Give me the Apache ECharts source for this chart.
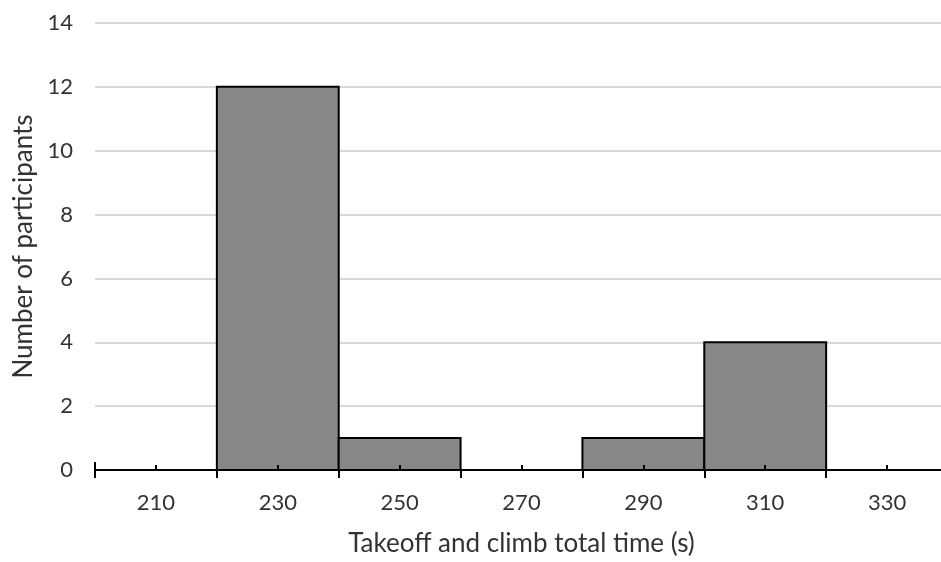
<!DOCTYPE html>
<html><head><meta charset="utf-8">
<script src="https://cdn.jsdelivr.net/npm/echarts@6/dist/echarts.min.js"></script>
<style>html,body{margin:0;padding:0;background:#fff;overflow:hidden;width:941px;height:562px}#c{width:948px;height:562px}</style>
</head><body><div id="c"></div>
<script>
const categories = ['210','230','250','270','290','310','330'];
const counts = [0,12,1,0,1,4,0];
const yTicks = [0,2,4,6,8,10,12,14];
const xTitle = 'Takeoff and climb total time (s)';
const yTitle = 'Number of participants';

const font = 'Lato, "Open Sans", sans-serif';
const txt = '#333333';
const chart = echarts.init(document.getElementById('c'));
chart.setOption({
  animation:false,
  grid:{left:95, right:0, top:23, bottom:90, containLabel:false},
  xAxis:[{
    type:'category', data:categories, boundaryGap:true,
    axisLine:{lineStyle:{color:'#000', width:2}},
    axisTick:{show:true, length:8, lineStyle:{color:'#000', width:2}},
    axisLabel:{color:txt, fontSize:22, fontFamily:font, margin:22},
    name:xTitle, nameLocation:'middle', nameGap:61,
    nameTextStyle:{color:txt, fontSize:26, fontFamily:font},
    z:5
  },{
    type:'category', data:categories, position:'bottom', boundaryGap:true,
    axisLine:{show:false},
    axisTick:{show:true, inside:true, alignWithLabel:true, length:5, lineStyle:{color:'#000', width:2}},
    axisLabel:{show:false}, z:5
  },{
    type:'category', data:categories, position:'bottom', boundaryGap:true,
    axisLine:{show:false},
    axisTick:{show:true, inside:true, length:8, interval:function(i){return i===0;}, lineStyle:{color:'#000', width:2}},
    axisLabel:{show:false}, z:5
  }],
  yAxis:{
    type:'value', min:0, max:14, interval:2,
    axisLine:{show:false}, axisTick:{show:false},
    axisLabel:{color:txt, fontSize:22, fontFamily:font, margin:22,
      formatter:v=>yTicks.includes(v)?String(v):''},
    splitLine:{lineStyle:{color:'#d9d9d9', width:2}},
    name:yTitle, nameLocation:'middle', nameGap:57, nameRotate:90,
    nameTextStyle:{color:txt, fontSize:26, fontFamily:font}
  },
  series:[{
    type:'custom', xAxisIndex:0, yAxisIndex:0,
    data:counts.map((v,i)=>[i,v]),
    encode:{x:0, y:1},
    renderItem:function(params, api){
      const idx = api.value(0), val = api.value(1);
      const base = api.coord([idx, 0]);
      const size = api.size([1, val]);
      return {
        type:'rect',
        shape:{x:base[0]-size[0]/2, y:base[1]-size[1], width:size[0], height:size[1]},
        style:{fill:'#878787', stroke:'#000', lineWidth:2}
      };
    },
    z:2
  }]
});
</script></body></html>
